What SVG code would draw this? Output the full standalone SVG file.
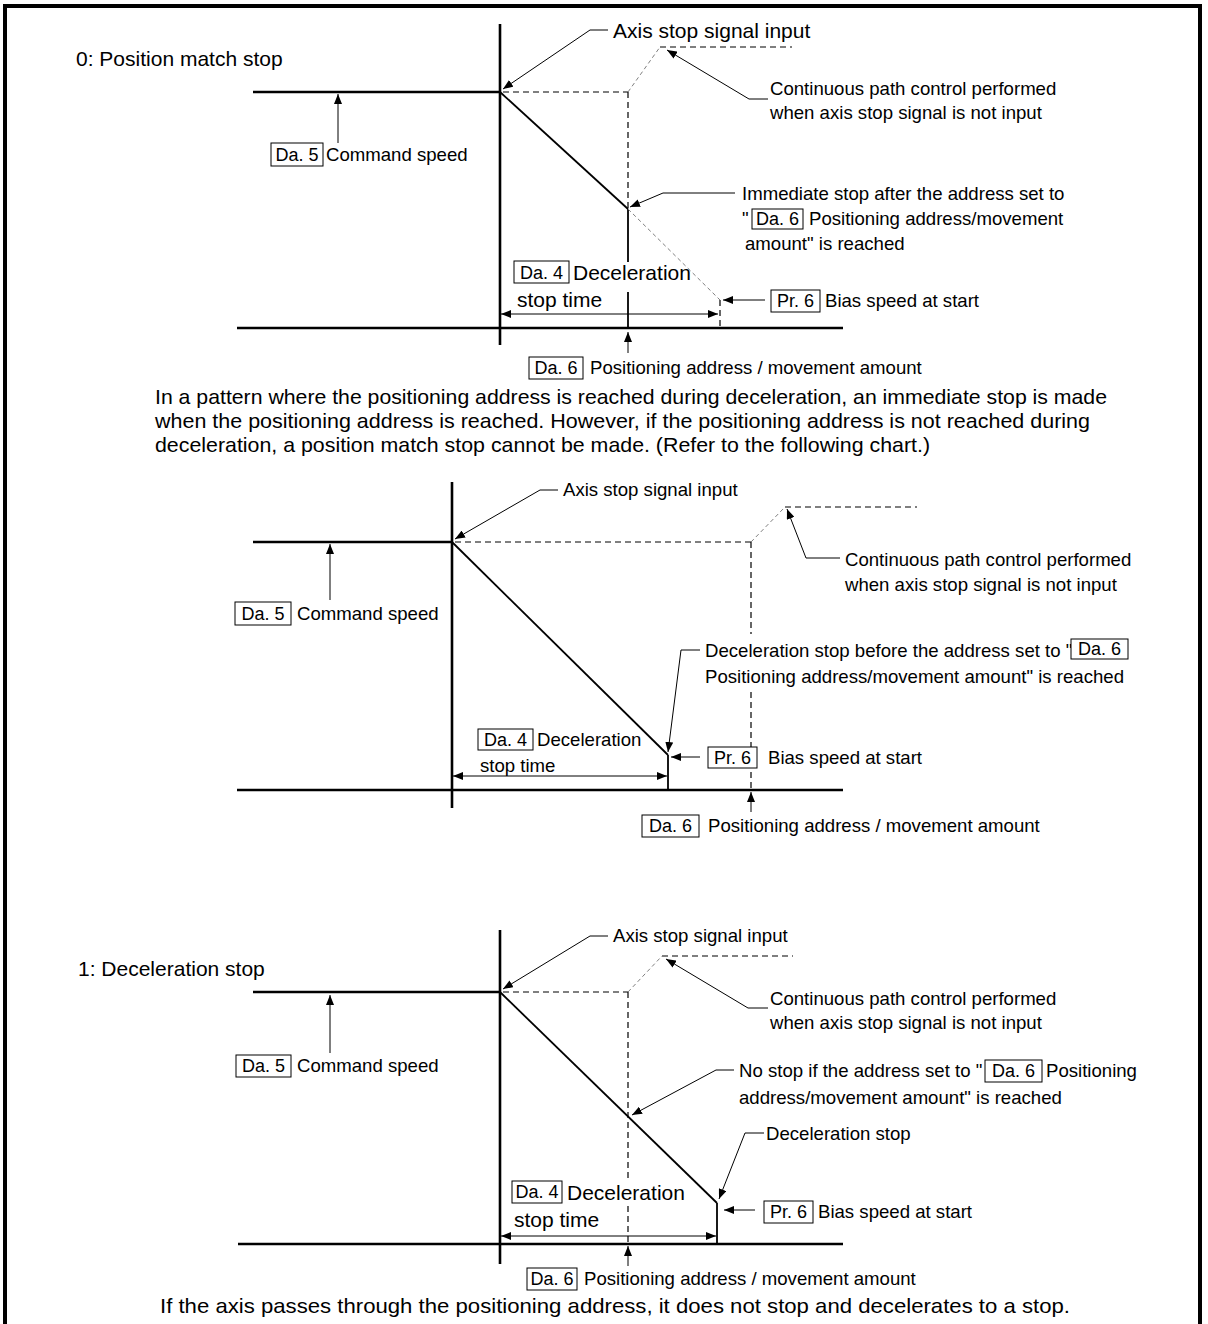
<svg xmlns="http://www.w3.org/2000/svg" width="1208" height="1324" viewBox="0 0 1208 1324">
<style>
text{font-family:"Liberation Sans",Arial,sans-serif;fill:#000}
.t21{font-size:21px}
.t18{font-size:18.6px}
.tb{font-size:18px;text-anchor:middle}
.ax{stroke:#000;stroke-width:2.6;fill:none}
.ln{stroke:#000;stroke-width:1.8;fill:none}
.ld{stroke:#000;stroke-width:1;fill:none}
.dsh{stroke:#000;stroke-width:1.2;stroke-dasharray:6 4;fill:none}
.gd{stroke:#808080;stroke-width:1;stroke-dasharray:4 3;fill:none}
.box{fill:#fff;stroke:#000;stroke-width:1}
.ar{marker-end:url(#ah)}
.dim{marker-start:url(#ah);marker-end:url(#ah)}
</style>
<defs>
<marker id="ah" viewBox="0 0 10 8" refX="10" refY="4" markerWidth="10" markerHeight="8" markerUnits="userSpaceOnUse" orient="auto-start-reverse"><path d="M0,0L10,4L0,8z" fill="#000"/></marker>
</defs>
<rect width="1208" height="1324" fill="#fff"/>
<path d="M5,1330V6H1200V1330" fill="none" stroke="#000" stroke-width="4"/>

<g id="connectors">
<!-- chart 1 -->
<line class="ax" x1="500" y1="24" x2="500" y2="345"/>
<line class="ax" x1="237" y1="328" x2="843" y2="328"/>
<line class="ax" x1="253" y1="92" x2="500" y2="92"/>
<line class="ln" x1="500" y1="92" x2="628" y2="209"/>
<line class="ln" x1="628" y1="209" x2="628" y2="262"/>
<line class="ln" x1="628" y1="292" x2="628" y2="328"/>
<line class="dsh" x1="503" y1="92" x2="628" y2="92"/>
<line class="dsh" x1="628" y1="92" x2="628" y2="209"/>
<line class="gd" x1="628" y1="92" x2="660" y2="47"/>
<line class="dsh" x1="660" y1="47" x2="792" y2="47"/>
<line class="gd" x1="628" y1="209" x2="720" y2="300"/>
<line class="dsh" x1="720" y1="300" x2="720" y2="328"/>
<polyline class="ld ar" points="608,30 590,30 503,89"/>
<polyline class="ld ar" points="768,99 749,99 667,50"/>
<line class="ld ar" x1="338" y1="143" x2="338" y2="94"/>
<polyline class="ld ar" points="735,193 663,193 630,207"/>
<line class="ld ar" x1="765" y1="300" x2="723" y2="300"/>
<line class="ld dim" x1="501" y1="314" x2="718" y2="314"/>
<line class="ld ar" x1="628" y1="353" x2="628" y2="332"/>
<!-- chart 2 -->
<line class="ax" x1="452" y1="482" x2="452" y2="808"/>
<line class="ax" x1="237" y1="790" x2="843" y2="790"/>
<line class="ax" x1="253" y1="542" x2="452" y2="542"/>
<line class="ln" x1="452" y1="542" x2="668" y2="755"/>
<line class="ln" x1="668" y1="755" x2="668" y2="790"/>
<line class="dsh" x1="455" y1="542" x2="751" y2="542"/>
<line class="dsh" x1="751" y1="542" x2="751" y2="634"/>
<line class="dsh" x1="751" y1="692" x2="751" y2="790"/>
<line class="gd" x1="751" y1="542" x2="785" y2="507"/>
<line class="dsh" x1="785" y1="507" x2="917" y2="507"/>
<polyline class="ld ar" points="558,490 540,490 455,539"/>
<polyline class="ld ar" points="840,558 806,558 787,509"/>
<line class="ld ar" x1="330" y1="600" x2="330" y2="544"/>
<polyline class="ld ar" points="700,650 681,650 668,752"/>
<line class="ld ar" x1="700" y1="757" x2="671" y2="757"/>
<line class="ld dim" x1="453" y1="776" x2="667" y2="776"/>
<line class="ld ar" x1="751" y1="812" x2="751" y2="792"/>
<!-- chart 3 -->
<line class="ax" x1="500" y1="930" x2="500" y2="1264"/>
<line class="ax" x1="238" y1="1244" x2="843" y2="1244"/>
<line class="ax" x1="253" y1="992" x2="500" y2="992"/>
<line class="ln" x1="500" y1="992" x2="717" y2="1203"/>
<line class="ln" x1="717" y1="1203" x2="717" y2="1244"/>
<line class="dsh" x1="503" y1="992" x2="628" y2="992"/>
<line class="dsh" x1="628" y1="992" x2="628" y2="1180"/>
<line class="dsh" x1="628" y1="1206" x2="628" y2="1244"/>
<line class="gd" x1="628" y1="992" x2="662" y2="956"/>
<line class="dsh" x1="662" y1="956" x2="793" y2="956"/>
<polyline class="ld ar" points="608,936 590,936 503,989"/>
<polyline class="ld ar" points="768,1008 748,1008 666,959"/>
<line class="ld ar" x1="330" y1="1053" x2="330" y2="995"/>
<polyline class="ld ar" points="734,1070 716,1070 632,1115"/>
<polyline class="ld ar" points="764,1133 745,1133 719,1199"/>
<line class="ld ar" x1="755" y1="1210" x2="724" y2="1210"/>
<line class="ld dim" x1="501" y1="1236" x2="716" y2="1236"/>
<line class="ld ar" x1="628" y1="1266" x2="628" y2="1246"/>
</g>

<g id="c1-title"><text class="t21" x="76" y="66">0: Position match stop</text></g>
<g id="c1-axis-stop"><text class="t21" x="613" y="38">Axis stop signal input</text></g>
<g id="c1-continuous"><text class="t18" x="770" y="95">Continuous path control performed</text><text class="t18" x="770" y="119">when axis stop signal is not input</text></g>
<g id="c1-cmd"><rect class="box" x="271" y="143" width="52" height="23"/><text class="tb" x="297" y="161">Da. 5</text><text class="t18" x="326" y="161">Command speed</text></g>
<g id="c1-immediate"><text class="t18" x="742" y="200">Immediate stop after the address set to</text><text class="t18" x="742" y="225">"</text><rect class="box" x="752" y="209" width="51" height="20"/><text class="tb" x="777.5" y="225">Da. 6</text><text class="t18" x="809" y="225">Positioning address/movement</text><text class="t18" x="745" y="250">amount" is reached</text></g>
<g id="c1-decel"><rect class="box" x="514" y="261" width="55" height="22"/><text class="tb" x="541.5" y="279">Da. 4</text><text class="t21" x="573" y="280">Deceleration</text><text class="t21" x="517" y="307">stop time</text></g>
<g id="c1-bias"><rect class="box" x="771" y="290" width="49" height="22"/><text class="tb" x="795.5" y="307">Pr. 6</text><text class="t18" x="825" y="307">Bias speed at start</text></g>
<g id="c1-addr"><rect class="box" x="529" y="357" width="54" height="22"/><text class="tb" x="556" y="374">Da. 6</text><text class="t18" x="590" y="374">Positioning address / movement amount</text></g>

<g id="para1">
<text class="t21" x="155" y="404" textLength="952" lengthAdjust="spacingAndGlyphs">In a pattern where the positioning address is reached during deceleration, an immediate stop is made</text>
<text class="t21" x="155" y="428" textLength="935" lengthAdjust="spacingAndGlyphs">when the positioning address is reached. However, if the positioning address is not reached during</text>
<text class="t21" x="155" y="452" textLength="775" lengthAdjust="spacingAndGlyphs">deceleration, a position match stop cannot be made. (Refer to the following chart.)</text>
</g>

<g id="c2-axis-stop"><text class="t18" x="563" y="496">Axis stop signal input</text></g>
<g id="c2-continuous"><text class="t18" x="845" y="566">Continuous path control performed</text><text class="t18" x="845" y="591">when axis stop signal is not input</text></g>
<g id="c2-cmd"><rect class="box" x="235" y="602" width="56" height="23"/><text class="tb" x="263" y="620">Da. 5</text><text class="t18" x="297" y="620">Command speed</text></g>
<g id="c2-decelstop"><text class="t18" x="705" y="657">Deceleration stop before the address set to "</text><rect class="box" x="1071" y="639" width="57" height="20"/><text class="tb" x="1099.5" y="655">Da. 6</text><text class="t18" x="705" y="683">Positioning address/movement amount" is reached</text></g>
<g id="c2-decel"><rect class="box" x="478" y="729" width="55" height="21"/><text class="tb" x="505.5" y="746">Da. 4</text><text class="t18" x="537" y="746">Deceleration</text><text class="t18" x="480" y="772">stop time</text></g>
<g id="c2-bias"><rect class="box" x="708" y="747" width="49" height="21"/><text class="tb" x="732.5" y="764">Pr. 6</text><text class="t18" x="768" y="764">Bias speed at start</text></g>
<g id="c2-addr"><rect class="box" x="642" y="815" width="57" height="22"/><text class="tb" x="670.5" y="832">Da. 6</text><text class="t18" x="708" y="832">Positioning address / movement amount</text></g>

<g id="c3-title"><text class="t21" x="78" y="976">1: Deceleration stop</text></g>
<g id="c3-axis-stop"><text class="t18" x="613" y="942">Axis stop signal input</text></g>
<g id="c3-continuous"><text class="t18" x="770" y="1005">Continuous path control performed</text><text class="t18" x="770" y="1029">when axis stop signal is not input</text></g>
<g id="c3-cmd"><rect class="box" x="236" y="1055" width="55" height="22"/><text class="tb" x="263.5" y="1072">Da. 5</text><text class="t18" x="297" y="1072">Command speed</text></g>
<g id="c3-nostop"><text class="t18" x="739" y="1077">No stop if the address set to "</text><rect class="box" x="985" y="1060" width="57" height="22"/><text class="tb" x="1013.5" y="1077">Da. 6</text><text class="t18" x="1046" y="1077">Positioning</text><text class="t18" x="739" y="1104">address/movement amount" is reached</text></g>
<g id="c3-decelstop"><text class="t18" x="766" y="1140">Deceleration stop</text></g>
<g id="c3-decel"><rect class="box" x="512" y="1181" width="50" height="22"/><text class="tb" x="537" y="1198">Da. 4</text><text class="t21" x="567" y="1200">Deceleration</text><text class="t21" x="514" y="1227">stop time</text></g>
<g id="c3-bias"><rect class="box" x="764" y="1201" width="49" height="22"/><text class="tb" x="788.5" y="1218">Pr. 6</text><text class="t18" x="818" y="1218">Bias speed at start</text></g>
<g id="c3-addr"><rect class="box" x="527" y="1268" width="50" height="22"/><text class="tb" x="552" y="1285">Da. 6</text><text class="t18" x="584" y="1285">Positioning address / movement amount</text></g>
<g id="final"><text class="t21" x="160" y="1313" textLength="910" lengthAdjust="spacingAndGlyphs">If the axis passes through the positioning address, it does not stop and decelerates to a stop.</text></g>
</svg>
